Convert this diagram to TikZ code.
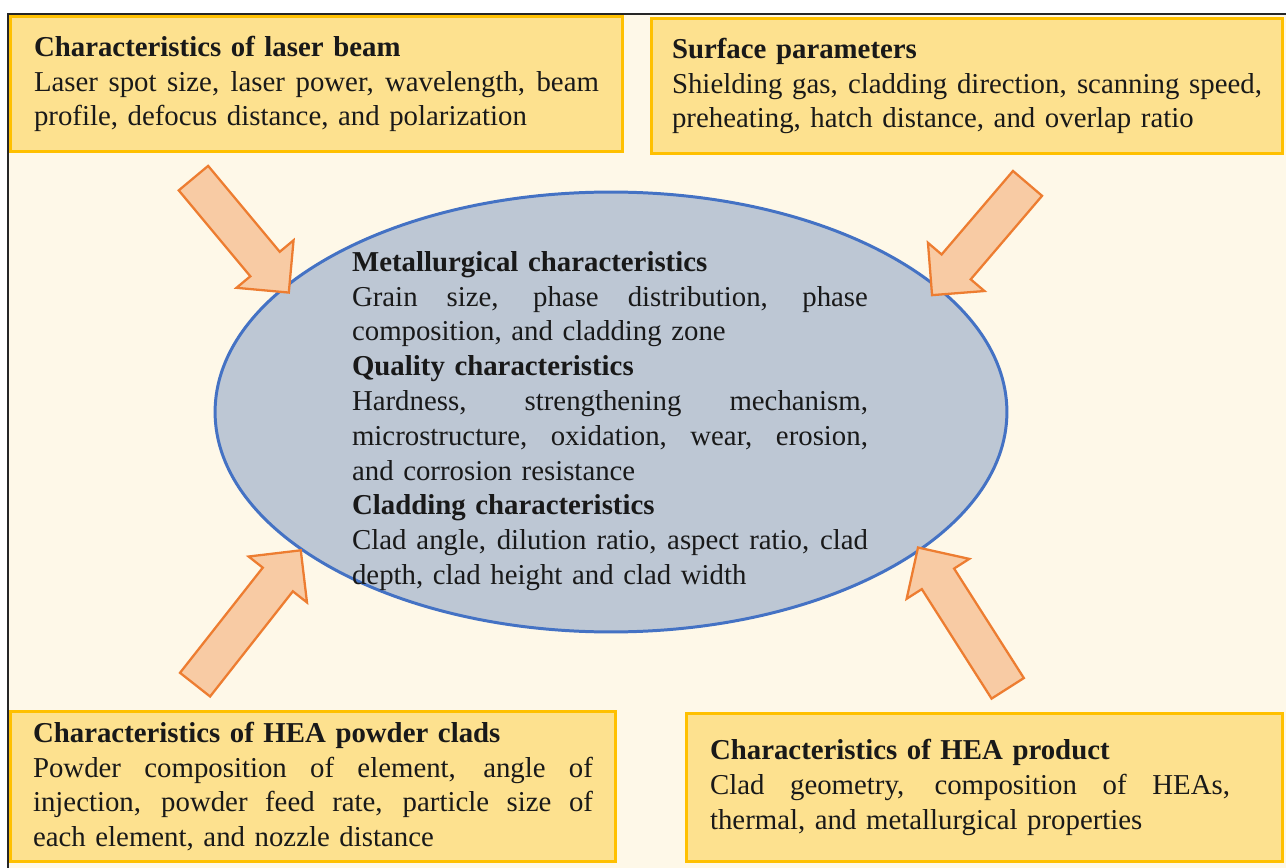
\documentclass[tikz,border=0pt]{standalone}
\usepackage{fontspec}
\setmainfont{Liberation Serif}
\usetikzlibrary{shapes.geometric,shapes.arrows}

\definecolor{paper}{HTML}{FEF8E8}
\definecolor{boxfill}{HTML}{FDE18F}
\definecolor{boxline}{HTML}{FFC000}
\definecolor{hubfill}{HTML}{BDC7D4}
\definecolor{hubline}{HTML}{4472C4}
\definecolor{pushfill}{HTML}{F8CBA4}
\definecolor{pushline}{HTML}{ED7D31}

% stretch one line of text to a given width
\newcommand{\fullline}[2]{\makebox[#1][s]{\spaceskip=0pt\xspaceskip=0pt #2}}

\begin{document}
\begin{tikzpicture}[x=0.02cm,y=-0.02cm]
\tikzset{
  every node/.style={font=\fontsize{16.4}{19.8}\selectfont, text=black!90},
  infobox/.style={rectangle, draw=boxline, fill=boxfill, line width=1.7pt, inner sep=0pt, align=left},
  hub/.style={ellipse, draw=hubline, fill=hubfill, line width=1.7pt, inner sep=0pt, minimum width=15.84cm, minimum height=8.8cm},
  push/.style={single arrow, draw=pushline, fill=pushfill, line width=1.3pt, inner xsep=0pt, inner ysep=0.36cm,
    text height=0pt, text depth=0pt, single arrow head extend=0.36cm}
}
\useasboundingbox (0,0) rectangle (1286,868);
\fill[white] (0,0) rectangle (1286,868);
\fill[paper] (8,14) rectangle (1286,868);
\draw[line width=1.7pt, black!85] (8,868) -- (8,14) -- (1286,14);

% centre
\node[hub] (hub) at (611,412) {};
\node[text width=10.32cm, align=left, inner sep=0pt] (hubtext) at (610,421) {%
\textbf{Metallurgical characteristics}\\
\fullline{10.32cm}{Grain size, phase distribution, phase}\\
composition, and cladding zone\\
\textbf{Quality characteristics}\\
\fullline{10.32cm}{Hardness, strengthening mechanism,}\\
\fullline{10.32cm}{microstructure, oxidation, wear, erosion,}\\
and corrosion resistance\\
\textbf{Cladding characteristics}\\
\fullline{10.32cm}{Clad angle, dilution ratio, aspect ratio, clad}\\
depth, clad height and clad width};

% corner boxes
\node[infobox, minimum width=12.26cm, minimum height=2.72cm, text width=11.3cm] (beam) at (316.5,84) {%
\textbf{Characteristics of laser beam}\\
\fullline{11.3cm}{Laser spot size, laser power, wavelength, beam}\\
profile, defocus distance, and polarization};
\node[infobox, minimum width=12.64cm, minimum height=2.72cm, text width=11.8cm] (surface) at (967,86) {%
\textbf{Surface parameters}\\
\fullline{11.8cm}{Shielding gas, cladding direction, scanning speed,}\\
preheating, hatch distance, and overlap ratio};
\node[infobox, minimum width=12.12cm, minimum height=3.02cm, text width=11.2cm] (powder) at (313,786.5) {%
\textbf{Characteristics of HEA powder clads}\\
\fullline{11.2cm}{Powder composition of element, angle of}\\
\fullline{11.2cm}{injection, powder feed rate, particle size of}\\
each element, and nozzle distance};
\node[infobox, minimum width=11.94cm, minimum height=2.98cm, text width=10.98cm] (product) at (984.5,787.5) {%
\textbf{Characteristics of HEA product}\\
\fullline{10.4cm}{Clad geometry, composition of HEAs,}\\
thermal, and metallurgical properties};

% block arrows towards the centre
\node[push, minimum height=2.98cm, rotate=-50.2] (beamarrow) at (235,228) {};
\node[push, minimum height=2.94cm, rotate=-130.5] (surfacearrow) at (986,232) {};
\node[push, minimum height=3.42cm, rotate=51.8] (powderarrow) at (242,625) {};
\node[push, minimum height=3.34cm, rotate=122.5] (productarrow) at (968,626) {};
\end{tikzpicture}
\end{document}
